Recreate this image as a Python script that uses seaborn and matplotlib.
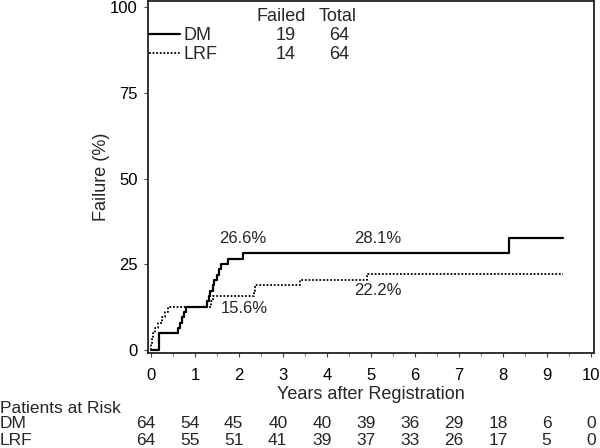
import matplotlib
matplotlib.use("Agg")
import matplotlib.pyplot as plt
import matplotlib.transforms as mtransforms
from matplotlib.ticker import MultipleLocator
import seaborn as sns
import pandas as pd

# ---- data ----
dm_years = [0, 0.18, 0.62, 0.66, 0.70, 0.74, 0.80, 1.27, 1.31, 1.35, 1.40, 1.44,
            1.49, 1.54, 1.60, 1.75, 2.09, 8.14, 9.36]
dm_fail = [0, 4.7, 6.3, 7.8, 9.4, 10.9, 12.5, 14.1, 15.6, 17.2, 18.8, 20.3,
           21.9, 23.4, 25.0, 26.6, 28.1, 32.6, 32.6]
lrf_years = [0, 0.01, 0.03, 0.05, 0.10, 0.17, 0.24, 0.31, 0.39, 1.37, 1.40,
             2.33, 2.37, 3.39, 4.90, 9.36]
lrf_fail = [0, 1.6, 3.1, 4.7, 6.3, 7.8, 9.4, 10.9, 12.5, 14.1, 15.6,
            17.2, 18.8, 20.3, 22.2, 22.2]

groups = ["DM", "LRF"]
failed = [19, 14]
total = [64, 64]

risk_years = list(range(0, 11))
dm_risk = [64, 54, 45, 40, 40, 39, 36, 29, 18, 6, 0]
lrf_risk = [64, 55, 51, 41, 39, 37, 33, 26, 17, 5, 0]

annot_text = ["26.6%", "28.1%", "15.6%", "22.2%"]
annot_x = [2.09, 5.16, 2.11, 5.16]
annot_y = [32.6, 32.6, 12.0, 17.3]

# ---- style ----
sns.set_theme(style="white")
plt.rcParams["font.family"] = ["Liberation Sans", "DejaVu Sans"]

fig = plt.figure(figsize=(6, 4.48), dpi=100)
W, H = 600, 448
ax = fig.add_axes([148 / W, 1 - 353 / H, 446 / W, 352 / H])

dm_df = pd.DataFrame({"Years": dm_years, "Failure": dm_fail})
lrf_df = pd.DataFrame({"Years": lrf_years, "Failure": lrf_fail})

sns.lineplot(data=dm_df, x="Years", y="Failure", drawstyle="steps-post",
             color="black", linewidth=1.6, estimator=None, sort=False,
             ax=ax, label="DM")
sns.lineplot(data=lrf_df, x="Years", y="Failure", drawstyle="steps-post",
             color="black", linewidth=1.3, linestyle=(0, (1, 1)),
             estimator=None, sort=False, ax=ax, label="LRF")

ax.set_xlim(-0.068, 10.068)
ax.set_ylim(-1.02, 101.9)
ax.set_xticks(range(0, 11))
ax.set_yticks([0, 25, 50, 75, 100])
ax.xaxis.set_minor_locator(MultipleLocator(0.5))

for sp in ax.spines.values():
    sp.set_visible(True)
    sp.set_color("#222222")
    sp.set_linewidth(1.3)

ax.tick_params(axis="both", which="major", direction="out", length=3,
               width=0.8, color="#444444", labelsize=12, colors="black")
ax.tick_params(axis="x", which="major", pad=8)
ax.tick_params(axis="y", which="major", pad=4.5)
ax.tick_params(axis="x", which="minor", direction="out", length=2,
               width=0.6, color="#666666", bottom=True)
ax.tick_params(axis="x", which="both", bottom=True)
ax.tick_params(axis="y", which="major", left=True)

ax.set_xlabel("Years after Registration", fontsize=13)
ax.set_ylabel("Failure (%)", fontsize=13)
ax.xaxis.set_label_coords(0.5, -0.094)
ax.yaxis.set_label_coords(-0.0863, 0.5)

# legend with failed / total table
ax.legend(loc="upper left", bbox_to_anchor=(0.002, 0.925), frameon=False,
          borderpad=0, borderaxespad=0, handlelength=1.72, handletextpad=0.17,
          labelspacing=0.11, fontsize=13)
row_y = [0.903, 0.849]
ax.text(0.298, 0.957, "Failed", transform=ax.transAxes, ha="center",
        va="center", fontsize=13)
ax.text(0.426, 0.957, "Total", transform=ax.transAxes, ha="center",
        va="center", fontsize=13)
for g, f, t, yy in zip(groups, failed, total, row_y):
    ax.text(0.309, yy, str(f), transform=ax.transAxes, ha="center",
            va="center", fontsize=13)
    ax.text(0.428, yy, str(t), transform=ax.transAxes, ha="center",
            va="center", fontsize=13)

for s, xx, yy in zip(annot_text, annot_x, annot_y):
    ax.text(xx, yy, s, ha="center", va="center", fontsize=12)

# patients at risk table
blend = mtransforms.blended_transform_factory(ax.transData, fig.transFigure)
blend_r = mtransforms.offset_copy(blend, fig=fig, x=4.5, y=0, units="dots")
fs_risk = 12.5
fig.text(0.0, 1 - 408 / H, "Patients at Risk", ha="left", va="center",
         fontsize=fs_risk)
fig.text(0.0, 1 - 423.5 / H, "DM", ha="left", va="center", fontsize=fs_risk)
fig.text(0.0, 1 - 440 / H, "LRF", ha="left", va="center", fontsize=fs_risk)
for xx, a, b in zip(risk_years, dm_risk, lrf_risk):
    ax.text(xx, 1 - 423.5 / H, str(a), transform=blend_r, ha="right",
            va="center", fontsize=fs_risk, clip_on=False)
    ax.text(xx, 1 - 440 / H, str(b), transform=blend_r, ha="right",
            va="center", fontsize=fs_risk, clip_on=False)

fig.savefig("out.png", dpi=100)
